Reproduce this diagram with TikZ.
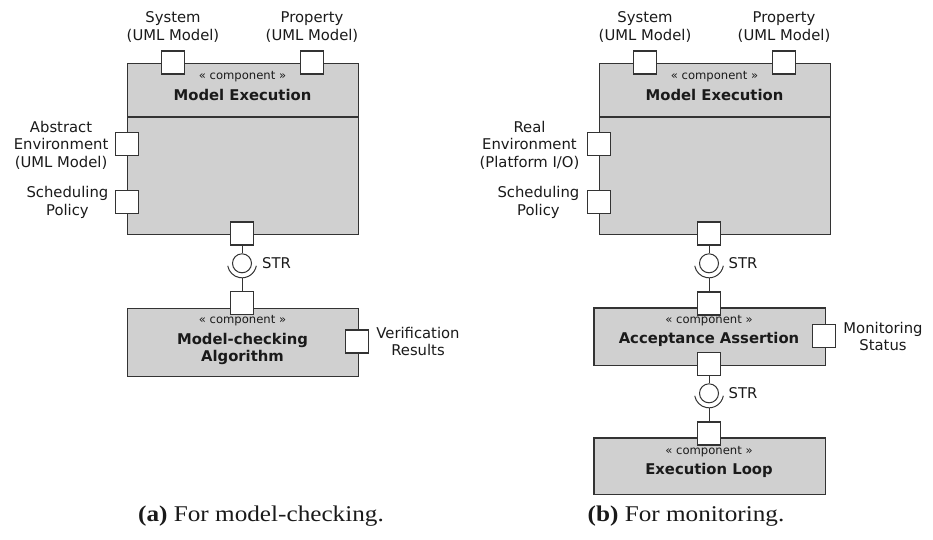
\documentclass[tikz,border=0pt]{standalone}
\usepackage{fontspec}
\newfontfamily\dvsans{DejaVu Sans}
\newfontfamily\capserif{Liberation Serif}
\definecolor{compfill}{HTML}{D0D0D0}
\definecolor{edgec}{HTML}{333333}
\definecolor{inkc}{HTML}{1A1A1A}

\tikzset{
  comp/.style={draw=edgec, fill=compfill, line width=1.2pt, rectangle, inner sep=0pt, anchor=north west},
  port/.style={draw=edgec, fill=white, line width=1.2pt, rectangle, minimum size=23pt, inner sep=0pt},
  lbl/.style={font=\dvsans\fontsize{14.8}{17.5}\selectfont, align=center, inner sep=0pt, text=inkc},
  stereo/.style={font=\dvsans\fontsize{11.6}{13}\selectfont, inner sep=0pt, text=inkc},
  ctitle/.style={font=\dvsans\bfseries\fontsize{14.8}{17}\selectfont, align=center, inner sep=0pt, text=inkc},
  wire/.style={draw=edgec, line width=1pt},
  ball/.style={draw=edgec, line width=1pt, circle, minimum size=19pt, inner sep=0pt},
  capt/.style={font=\capserif\fontsize{22.5}{25}\selectfont, inner sep=0pt, text=inkc},
}
\newcommand{\widecap}[1]{\scalebox{1.12}[1]{#1}}

\begin{document}
\begin{tikzpicture}[x=1pt,y=-1pt]
\useasboundingbox (0,0) rectangle (933,539);

% ---------------- (a) model-checking ----------------
\node[comp, minimum width=231pt, minimum height=171pt] (meA) at (127,63) {};
\coordinate (divA) at (0,117);
\draw[comp] (meA.west |- divA) -- (meA.east |- divA);
\node[stereo] (meAst) at (242.5,77) {« component »};
\node[ctitle] (meAti) at (242.5,95) {Model Execution};

\node[port] (sysA) at (173,62.5) {};
\node[port] (propA) at (312,62.5) {};
\node[lbl] (sysAl) at (173,27) {System\\(UML Model)};
\node[lbl] (propAl) at (312,27) {Property\\(UML Model)};

\node[port] (envA) at (127,144) {};
\node[port] (schA) at (127,202) {};
\node[lbl, anchor=east] (envAl) at (108.5,145) {Abstract\\Environment\\(UML Model)};
\node[lbl, anchor=east] (schAl) at (108.5,202.5) {Scheduling\\Policy};

\node[port] (outA) at (242,233.5) {};
\node[ball] (ifA) at (242,263.3) {};
\draw[wire] (ifA.center) ++(10:14.5) arc[start angle=10, end angle=170, radius=14.5];
\coordinate (sockA) at (242,277.8);
\node[lbl, anchor=west] (strA) at (262,263.5) {STR};

\node[comp, minimum width=231pt, minimum height=68.5pt] (mcA) at (127,307.5) {};
\node[port] (inA) at (242,303) {};
\node[stereo] (mcAst) at (242.5,320.5) {« component »};
\node[ctitle] (mcAti) at (242.5,349) {Model-checking\\Algorithm};
\node[port] (verA) at (357,341.5) {};
\node[lbl] (verAl) at (418,341.5) {Verification\\Results};

\draw[wire] (outA.south) -- (ifA.north);
\draw[wire] (sockA) -- (inA.north);

\node[capt] (capA) at (261,516) {\widecap{\textbf{(a)} For model-checking.}};

% ---------------- (b) monitoring ----------------
\node[comp, minimum width=231pt, minimum height=171pt] (meB) at (599,63) {};
\draw[comp] (meB.west |- divA) -- (meB.east |- divA);
\node[stereo] (meBst) at (714.5,77) {« component »};
\node[ctitle] (meBti) at (714.5,95) {Model Execution};

\node[port] (sysB) at (645,62.5) {};
\node[port] (propB) at (784,62.5) {};
\node[lbl] (sysBl) at (645,27) {System\\(UML Model)};
\node[lbl] (propBl) at (784,27) {Property\\(UML Model)};

\node[port] (envB) at (599,144) {};
\node[port] (schB) at (599,202) {};
\node[lbl, anchor=east] (envBl) at (579.5,145) {Real\\Environment\\(Platform I/O)};
\node[lbl, anchor=east] (schBl) at (579.5,202.5) {Scheduling\\Policy};

\node[port] (outB) at (709,233.5) {};
\node[ball] (ifB) at (709,263.3) {};
\draw[wire] (ifB.center) ++(10:14.5) arc[start angle=10, end angle=170, radius=14.5];
\coordinate (sockB) at (709,277.8);
\node[lbl, anchor=west] (strB) at (728.5,263.5) {STR};

\node[comp, minimum width=231.5pt, minimum height=57.7pt] (aaB) at (593.3,307.3) {};
\node[port] (inB) at (709,303.5) {};
\node[stereo] (aaBst) at (709,321) {« component »};
\node[ctitle] (aaBti) at (709,339.5) {Acceptance Assertion};
\node[port] (monB) at (824,336) {};
\node[lbl] (monBl) at (883,336.5) {Monitoring\\Status};
\node[port] (out2B) at (709,364) {};

\node[ball] (if2B) at (709,393.3) {};
\draw[wire] (if2B.center) ++(10:14.5) arc[start angle=10, end angle=170, radius=14.5];
\coordinate (sock2B) at (709,407.8);
\node[lbl, anchor=west] (str2B) at (728.5,393.5) {STR};

\node[comp, minimum width=231.7pt, minimum height=56.7pt] (elB) at (593.3,437.3) {};
\node[port] (in2B) at (709,433.5) {};
\node[stereo] (elBst) at (709,451.5) {« component »};
\node[ctitle] (elBti) at (709,470) {Execution Loop};

\draw[wire] (outB.south) -- (ifB.north);
\draw[wire] (sockB) -- (inB.north);
\draw[wire] (out2B.south) -- (if2B.north);
\draw[wire] (sock2B) -- (in2B.north);

\node[capt] (capB) at (686,516) {\widecap{\textbf{(b)} For monitoring.}};
\end{tikzpicture}
\end{document}
